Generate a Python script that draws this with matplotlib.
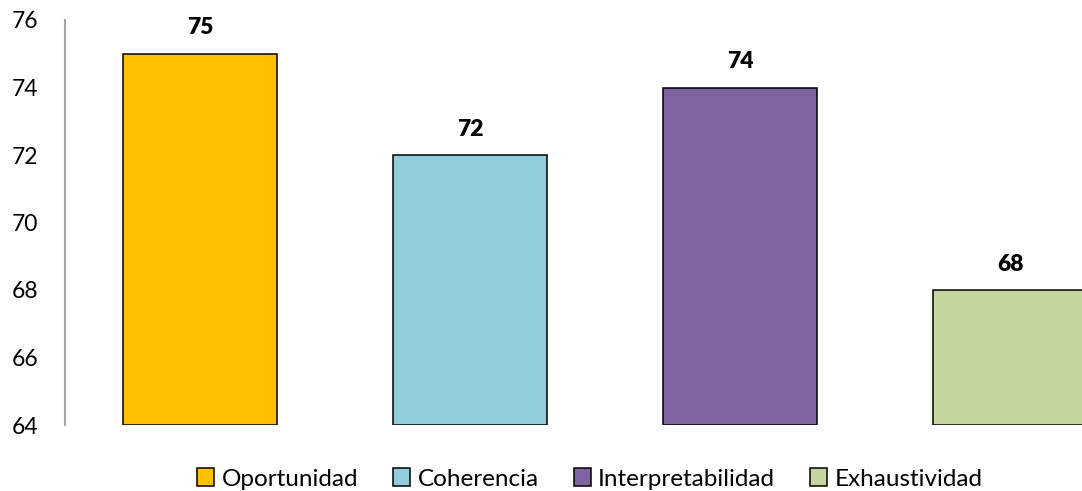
import matplotlib.pyplot as plt
from matplotlib.patches import Patch

plt.rcParams['font.family'] = ['Lato', 'DejaVu Sans']

# ---- data ----
categorias = ['Oportunidad', 'Coherencia', 'Interpretabilidad', 'Exhaustividad']
valores = [75, 72, 74, 68]
colores = ['#FFC000', '#92CDDC', '#8064A2', '#C3D69B']
y_ticks = [64, 66, 68, 70, 72, 74, 76]

fig = plt.figure(figsize=(10.82, 4.91), dpi=100)
# axes run past the right edge so the last bar is clipped
ax = fig.add_axes([65 / 1082, (491 - 425) / 491, 1080 / 1082, 405 / 491])

x = range(len(categorias))
bars = ax.bar(x, [v - 64 for v in valores], bottom=64, width=0.574,
              color=colores, edgecolor='black', linewidth=1.1)

for xi, v in zip(x, valores):
    ax.annotate(str(v), (xi, v), xytext=(0, 11), textcoords='offset points',
                ha='center', va='bottom', fontsize=16.5, fontweight='heavy')

ax.set_xlim(-0.5, 3.5)
ax.set_ylim(64, 76)
ax.set_yticks(y_ticks)
ax.tick_params(axis='y', length=0, pad=19, labelsize=16.5)
ax.set_xticks([])
for s in ['top', 'right', 'bottom']:
    ax.spines[s].set_visible(False)
ax.spines['left'].set_color('#A6A6A6')
ax.spines['left'].set_linewidth(1.5)

handles = [Patch(facecolor=c, edgecolor='black', linewidth=1.1) for c in colores]
fig.legend(handles, categorias, loc='center', bbox_to_anchor=(590 / 1082, 1 - 479 / 491),
           ncol=4, frameon=False, fontsize=17.5, handlelength=0.7, handleheight=0.7,
           handletextpad=0.3, columnspacing=1.45)

fig.savefig('out.png', dpi=100)
